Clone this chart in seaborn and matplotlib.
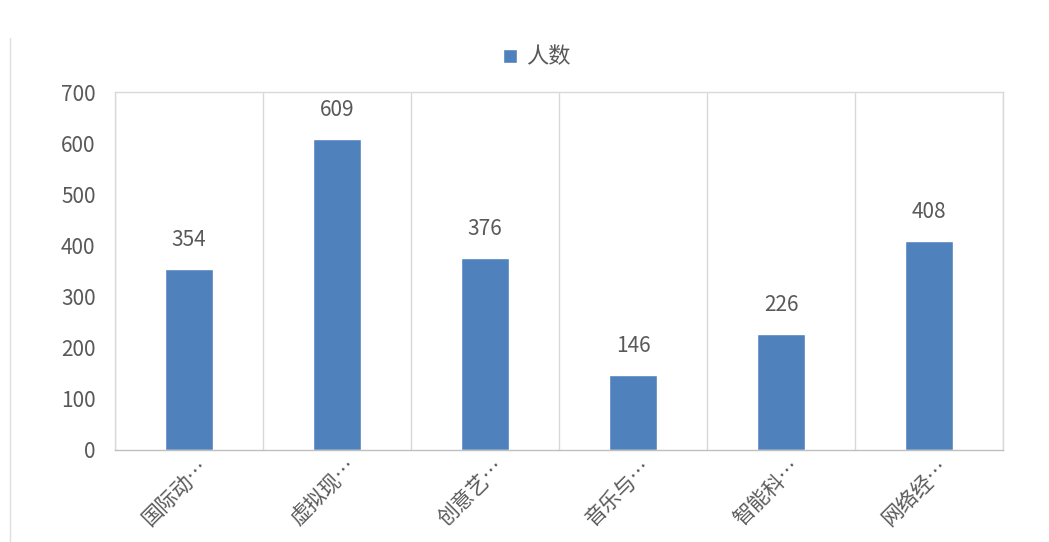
import numpy as np
import pandas as pd
import matplotlib.pyplot as plt
import matplotlib.transforms as mtransforms
import seaborn as sns

categories = ['国际动…', '虚拟现…', '创意艺…', '音乐与…', '智能科…', '网络经…']
counts = [354, 609, 376, 146, 226, 408]
series_name = '人数'

df = pd.DataFrame({'专业': categories, series_name: counts})

sns.set_style("white")
plt.rcParams['font.family'] = ['Noto Sans CJK SC', 'DejaVu Sans']

fig = plt.figure(figsize=(10.49, 5.42), dpi=100)
ax = fig.add_axes([0.1096, 0.170, 0.8465, 0.660])

bar_color = '#4F81BD'
sns.barplot(data=df, x='专业', y=series_name, color=bar_color, width=0.32,
            ax=ax, label=series_name, saturation=1)

ax.set_ylim(0, 700)
ax.set_xlim(-0.5, len(categories) - 0.5)
ax.set_yticks(np.arange(0, 701, 100))
ax.set_xlabel('')
ax.set_ylabel('')

text_color = '#595959'
line_color = '#D9D9D9'

for c in ax.containers:
    ax.bar_label(c, padding=13, fontsize=15, color=text_color)

# category boundaries as vertical grid lines
ax.set_xticks(np.arange(-0.5, len(categories), 1.0), minor=True)
ax.grid(True, which='minor', axis='x', color=line_color, linewidth=1)
ax.tick_params(axis='x', which='minor', length=10, color=line_color, width=1)
ax.tick_params(axis='x', which='major', length=0, labelsize=15, labelcolor=text_color, pad=4)
ax.tick_params(axis='y', length=0, labelsize=15, labelcolor=text_color, pad=14)
shift = mtransforms.ScaledTranslation(8 / 100, 0, fig.dpi_scale_trans)
for lbl in ax.get_xticklabels():
    lbl.set_rotation(45)
    lbl.set_ha('right')
    lbl.set_rotation_mode('anchor')
    lbl.set_transform(lbl.get_transform() + shift)

for s in ax.spines.values():
    s.set_color(line_color)
    s.set_linewidth(1)
ax.spines['bottom'].set_color('#BFBFBF')

leg = ax.legend(loc='lower center', bbox_to_anchor=(0.475, 1.01), frameon=False,
                fontsize=16, handlelength=0.6, handleheight=0.6, handletextpad=0.4)
for t in leg.get_texts():
    t.set_color(text_color)

# thin border line on the left edge of the image
fig.add_artist(plt.Line2D([0.0095, 0.0095], [0.0, 0.93], transform=fig.transFigure,
                          color='#E0E0E0', linewidth=1))

plt.savefig('out.png', dpi=100)
